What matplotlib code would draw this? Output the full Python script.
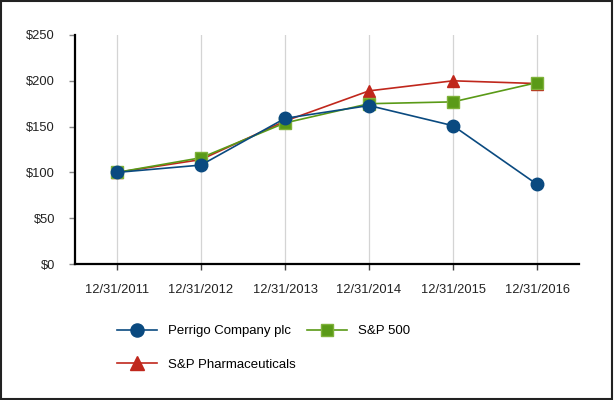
import matplotlib
matplotlib.use("Agg")
import matplotlib.pyplot as plt
from matplotlib.patches import Rectangle

plt.rcParams['font.family'] = ['Liberation Sans', 'DejaVu Sans']

categories = ["12/31/2011", "12/31/2012", "12/31/2013", "12/31/2014", "12/31/2015", "12/31/2016"]
perrigo = [100, 108, 159, 173, 151, 87]
sp500 = [100, 116, 154, 175, 177, 198]
pharma = [100, 114, 156, 189, 200, 197]
yticks = [0, 50, 100, 150, 200, 250]
ytick_labels = ["$0", "$50", "$100", "$150", "$200", "$250"]

c_blue = "#0a4a80"
c_green = "#5a9a17"
c_red = "#c0271c"

fig = plt.figure(figsize=(6.14, 4.0), dpi=100)
ax = fig.add_axes([75/614, 1 - 264/400, (579-75)/614, (264-35)/400])

x = list(range(len(categories)))
l1, = ax.plot(x, perrigo, color=c_blue, lw=1.2, marker='o', ms=9, mfc=c_blue, mec=c_blue, zorder=5)
l2, = ax.plot(x, sp500, color=c_green, lw=1.2, marker='s', ms=8.5, mfc=c_green, mec="#7fb23a", zorder=4)
l3, = ax.plot(x, pharma, color=c_red, lw=1.2, marker='^', ms=9, mfc=c_red, mec=c_red, zorder=3)

ax.set_xlim(-0.5, 5.5)
ax.set_ylim(0, 250)
ax.set_xticks(x)
ax.set_xticklabels(categories, fontsize=9.3, color='#222222')
ax.set_yticks(yticks)
ax.set_yticklabels(ytick_labels, fontsize=9.3, color='#222222')
ax.grid(axis='x', color='#d4d4d4', lw=0.9)
ax.set_axisbelow(True)
for s in ['top', 'right']:
    ax.spines[s].set_visible(False)
ax.spines['left'].set_linewidth(1.6)
ax.spines['bottom'].set_linewidth(1.6)
ax.tick_params(axis='x', length=4.3, width=1, color='#444444', pad=10)
ax.tick_params(axis='y', length=4.3, width=1, color='#888888', pad=10)

leg = fig.legend([l1, l3, l2], ["Perrigo Company plc", "S&P Pharmaceuticals", "S&P 500"],
                 ncol=2, loc='center left', bbox_to_anchor=(117/614, 1 - 348/400),
                 frameon=False, fontsize=9.5, handlelength=3.0, handletextpad=0.83,
                 columnspacing=0.91, labelspacing=1.6, borderaxespad=0, borderpad=0,
                 markerscale=1.05)

fig.patches.append(Rectangle((0.002, 0.003), 0.995, 0.994, transform=fig.transFigure,
                             fill=False, edgecolor='#222222', lw=1.5))

fig.savefig("out.png", dpi=100)
